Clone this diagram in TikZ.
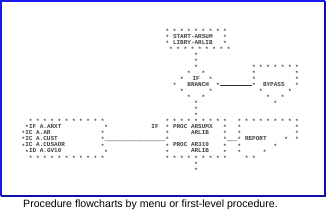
\documentclass[tikz,border=0pt]{standalone}
\usepackage{fontspec}
\setmainfont{Liberation Sans}
\newfontfamily\chartfont{Liberation Mono}
\usetikzlibrary{decorations.pathmorphing}
\definecolor{frameblue}{RGB}{25,25,235}
\definecolor{frameshade}{RGB}{15,15,170}
\definecolor{astgray}{RGB}{70,70,70}

\begin{document}
\begin{tikzpicture}[x=1pt, y=-1pt,
    ast/.style={font=\chartfont\bfseries\fontsize{6}{6}\selectfont, inner sep=0pt, yshift=-0.9pt, text=astgray},
    lbl/.style={font=\chartfont\bfseries\fontsize{6}{6}\selectfont, inner sep=0pt, anchor=west, text=black!75},
    wire/.style={draw=black!80, line width=0.6pt},
    wavy/.style={draw=black!45, line width=0.4pt, decorate, decoration={snake, amplitude=0.4pt, segment length=1.8pt}},
    capt/.style={font=\fontsize{10.6}{12}\selectfont, inner sep=0pt}]
    \useasboundingbox (0,0) rectangle (327,213);
    % frame and caption
    \draw[frameblue, line width=1.2pt] (1,196) -- (1,1) -- (325,1);
    \draw[frameshade, line width=1.6pt] (325,1) -- (325,196) -- (1,196);
    \node[capt] (caption) at (150.5,205) {Procedure flowcharts by menu or first-level procedure.};

    \begin{scope}[shift={(1.8,30)}, x=3.6pt, y=-6.05pt]
    % start box
    \foreach \c in {46,48,...,62} \node[ast] at (\c,0) {*};
    \foreach \r in {1,2} {
        \node[ast] at (46,\r) {*};
        \node[ast] at (62,\r) {*};
    }
    \foreach \c in {47,49,...,63} \node[ast] at (\c,3) {*};
    \node[lbl] (startA) at (47.5,1) {START-ARSUM};
    \node[lbl] (startB) at (47.5,2) {LIBRY-ARLIB};
    \foreach \r in {4,5,6} \node[ast] at (54,\r) {*};

    % branch diamond
    \node[ast] at (52,7) {*}; \node[ast] at (56,7) {*};
    \node[ast] at (50,8) {*}; \node[ast] at (58,8) {*};
    \node[ast] (brL) at (48,9) {*}; \node[ast] (brR) at (60,9) {*};
    \node[ast] at (50,10) {*}; \node[ast] at (58,10) {*};
    \node[ast] at (52,11) {*}; \node[ast] at (56,11) {*};
    \node[ast] at (54,12) {*};
    \node[lbl, anchor=center] (brIf) at (54,8) {IF};
    \node[lbl] (branch) at (51.5,9) {BRANCH};
    \foreach \r in {13,14} \node[ast] at (54,\r) {*};

    % bypass
    \foreach \c in {70,72,...,82} \node[ast] at (\c,6) {*};
    \foreach \r in {7,8} {
        \node[ast] at (70,\r) {*};
        \node[ast] at (82,\r) {*};
    }
    \node[ast] (byL) at (70,9) {*}; \node[ast] at (82,9) {*};
    \node[ast] at (72,10) {*}; \node[ast] at (80,10) {*};
    \node[ast] at (74,11) {*}; \node[ast] at (78,11) {*};
    \node[ast] at (76,12) {*};
    \node[lbl] (bypass) at (72.5,9) {BYPASS};
    \draw[wire] (brR.east) -- (byL.west);

    % file box
    \foreach \c in {8,10,...,28} {
        \node[ast] at (\c,15) {*};
        \node[ast] at (\c,21) {*};
    }
    \node[ast] at (7,16) {*}; \node[ast] at (29,16) {*};
    \node[ast] at (7,20) {*}; \node[ast] at (29,20) {*};
    \foreach \r in {17,18,19} \node[ast] at (6,\r) {*};
    \node[ast] at (28,17) {*}; \node[ast] at (28,19) {*};
    \node[ast] (fbR) at (28,18) {*};
    \node[lbl] (fileA) at (7.5,16) {IF A.ARXT};
    \node[lbl] (fileB) at (6.5,17) {IC  A.AR};
    \node[lbl] (fileC) at (6.5,18) {IC  A.CUST};
    \node[lbl] (fileD) at (6.5,19) {IC  A.CUSADR};
    \node[lbl] (fileE) at (7.5,20) {ID A.GV10};

    % proc box
    \foreach \c in {46,48,...,62} {
        \node[ast] at (\c,15) {*};
        \node[ast] at (\c,21) {*};
    }
    \foreach \r in {16,17,19,20} {
        \node[ast] at (46,\r) {*};
        \node[ast] at (62,\r) {*};
    }
    \node[ast] (pbL) at (46,18) {*}; \node[ast] (pbR) at (62,18) {*};
    \node[lbl] (procIf) at (41.5,16) {IF};
    \node[lbl] (procA) at (47.5,16) {PROC ARSUMX};
    \node[lbl] (libA) at (52.5,17) {ARLIB};
    \node[lbl] (procB) at (47.5,19) {PROC AR310};
    \node[lbl] (libB) at (52.5,20) {ARLIB};
    \foreach \r in {22,23} \node[ast] at (54,\r) {*};

    % report
    \foreach \c in {66,68,...,82} \node[ast] at (\c,15) {*};
    \foreach \r in {16,17} {
        \node[ast] at (66,\r) {*};
        \node[ast] at (82,\r) {*};
    }
    \node[ast] (rpL) at (66,18) {*}; \node[ast] at (79,18) {*}; \node[ast] at (82,18) {*};
    \node[ast] at (66,19) {*}; \node[ast] at (76,19) {*};
    \node[ast] at (66,20) {*}; \node[ast] at (73,20) {*};
    \node[ast] at (68,21) {*}; \node[ast] at (70,21) {*};
    \node[lbl] (report) at (67.5,18) {REPORT};

    % wavy links
    \draw[wavy] ([yshift=-1pt]fbR.east) -- ([xshift=-1.5pt,yshift=-1pt]pbL.west);
    \draw[black!45, line width=0.4pt] ([xshift=-1.5pt,yshift=-1pt]pbL.west) -- (pbL.west);
    \draw[wavy] ([yshift=-1pt]pbR.east) -- ([xshift=-1.5pt,yshift=-1pt]rpL.west);
    \draw[black!45, line width=0.4pt] ([xshift=-1.5pt,yshift=-1pt]rpL.west) -- (rpL.west);
    \end{scope}
\end{tikzpicture}
\end{document}
